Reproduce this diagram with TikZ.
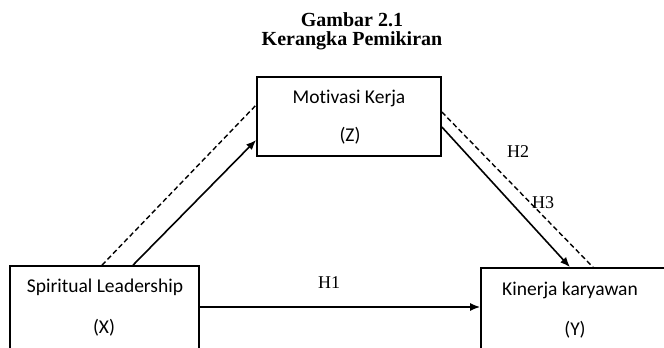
\documentclass[tikz,border=0pt]{standalone}
\usepackage{fontspec}
\setmainfont{Liberation Serif}
\newfontfamily\boxfont[Ligatures=NoCommon]{Carlito}
\usetikzlibrary{arrows.meta}

\begin{document}
\begin{tikzpicture}[x=1pt, y=-1pt,
  every node/.style={inner sep=0pt},
  varbox/.style={draw, line width=1.7pt, minimum height=120pt},
  varlabel/.style={font=\boxfont\fontsize{19.5}{22}\selectfont, anchor=base},
  figtitle/.style={font=\bfseries\fontsize{20}{22}\selectfont, anchor=base},
  hyp/.style={font=\fontsize{18}{20}\selectfont, anchor=base},
  link/.style={line width=1.6pt, -{Latex[length=10pt,width=8pt]}},
  medlink/.style={line width=1.4pt, dash pattern=on 5pt off 3pt}]
  \useasboundingbox (0,0) rectangle (664,348);
  \clip (0,0) rectangle (664,348);
  % title
  \node[figtitle] (fig) at (352,26) {Gambar 2.1};
  \node[figtitle] (cap) at (352,45) {Kerangka Pemikiran};
  % variables
  \node[varbox, minimum width=184pt, minimum height=79pt] (Z) at (349,116.5) {};
  \node[varbox, minimum width=189pt] (X) at (104.5,326) {};
  \node[varbox, minimum width=219pt] (Y) at (590.5,328) {};
  \node[varlabel] (zname) at (349,103) {Motivasi Kerja};
  \node[varlabel] (zsym) at (350,141) {(Z)};
  \node[varlabel] (xname) at (105,292) {Spiritual Leadership};
  \node[varlabel] (xsym) at (104,333) {(X)};
  \node[varlabel] (yname) at (570,295) {Kinerja karyawan};
  \node[varlabel] (ysym) at (575,335) {(Y)};
  % hypotheses
  \coordinate (h1row) at (0,307);
  \draw[link] (X.east |- h1row) -- (Y.west |- h1row);
  \draw[link] ([xshift=28.5pt]X.north) -- ([yshift=-23.5pt]Z.west);
  \draw[link] ([yshift=-10.5pt]Z.east) -- ([xshift=-20.5pt]Y.north);
  \draw[medlink] ([xshift=-2.5pt]X.north) -- ([yshift=11.5pt]Z.west);
  \draw[medlink] ([yshift=4.5pt]Z.east) -- ([xshift=2.5pt]Y.north);
  \node[hyp] (h1) at (329,288) {H1};
  \node[hyp] (h2) at (518,157) {H2};
  \node[hyp] (h3) at (543,208) {H3};
\end{tikzpicture}
\end{document}
